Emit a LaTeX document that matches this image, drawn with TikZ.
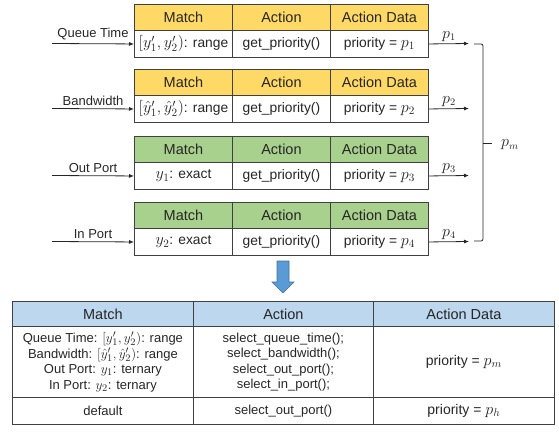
\documentclass[tikz,border=0pt]{standalone}
\usepackage{fontspec}
\usepackage{graphicx}
\setmainfont{Liberation Sans}
\usetikzlibrary{arrows.meta}
\definecolor{hdryellow}{HTML}{FFD966}
\definecolor{hdrgreen}{HTML}{A9D18E}
\definecolor{hdrblue}{HTML}{BDD7EE}
\definecolor{gridline}{HTML}{404040}
\definecolor{arrowblue}{HTML}{5B9BD5}
\definecolor{arrowedge}{HTML}{41719C}
\definecolor{inkgray}{HTML}{262626}

% math set a little larger so it sits well next to the sans text
\newcommand\mth[1]{\scalebox{1.12}{$#1$}}

\tikzset{
  cell/.style={draw=gridline, line width=0.9pt, inner sep=0pt, anchor=north west,
    minimum width=98pt, text=inkgray},
  hcell/.style={cell, minimum height=26pt, font=\fontsize{14.5}{17}\selectfont},
  bcell/.style={cell, minimum height=27pt, fill=white, font=\fontsize{13.8}{16}\selectfont},
  arr/.style={-{Latex[length=5pt,width=4pt]}, line width=0.8pt, draw=inkgray},
  inlabel/.style={font=\fontsize{13}{15}\selectfont, text=inkgray, inner sep=1pt},
  plabel/.style={font=\fontsize{13.5}{15}\selectfont, text=inkgray, inner sep=1pt},
  bigcell/.style={draw=gridline, line width=0.8pt, inner sep=0pt, anchor=north west, text=inkgray},
  bhead/.style={bigcell, fill=hdrblue, minimum height=25pt, font=\fontsize{14.5}{17}\selectfont},
  bbody/.style={bigcell, font=\fontsize{13}{15.5}\selectfont, align=center},
  bdata/.style={bbody, font=\fontsize{14}{16}\selectfont},
}

% one small match-action table: name prefix, top edge, header colour, match text, priority index
\newcommand\matchtable[5]{%
  \node[hcell, fill=#3] (#1h1) at (134,#2) {Match};
  \node[hcell, fill=#3] (#1h2) at (232,#2) {Action};
  \node[hcell, fill=#3] (#1h3) at (330,#2) {Action Data};
  \node[bcell] (#1b1) at (134,#2+26) {#4};
  \node[bcell] (#1b2) at (232,#2+26) {get\_priority()};
  \node[bcell] (#1b3) at (330,#2+26) {priority = \mth{p_{#5}}};
}

\begin{document}
\begin{tikzpicture}[x=1pt, y=-1pt]
\useasboundingbox (0,0) rectangle (559,431);

% the four per-field tables
\matchtable{qt}{4}{hdryellow}{\mth{[y_1',y_2')}: range}{1}
\matchtable{bw}{69}{hdryellow}{\mth{[\hat{y}_1',\hat{y}_2')}: range}{2}
\matchtable{op}{136}{hdrgreen}{\mth{y_1}: exact}{3}
\matchtable{ip}{202}{hdrgreen}{\mth{y_2}: exact}{4}

% inputs
\coordinate (qtin) at (52,43.5);
\coordinate (bwin) at (52,108.5);
\coordinate (opin) at (52,175.5);
\coordinate (ipin) at (52,241.5);
\draw[arr] (qtin) -- node[inlabel, above=2pt] {Queue Time} (qtb1.west);
\draw[arr] (bwin) -- node[inlabel, above=2pt] {Bandwidth} (bwb1.west);
\draw[arr] (opin) -- node[inlabel, above=2pt] {Out Port} (opb1.west);
\draw[arr] (ipin) -- node[inlabel, above=2pt] {In Port} (ipb1.west);

% outputs
\coordinate (qtout) at (469,43.5);
\coordinate (bwout) at (469,108.5);
\coordinate (opout) at (469,175.5);
\coordinate (ipout) at (469,241.5);
\draw[arr] (qtb3.east) -- node[plabel, above=1pt] {\mth{p_1}} (qtout);
\draw[arr] (bwb3.east) -- node[plabel, above=1pt] {\mth{p_2}} (bwout);
\draw[arr] (opb3.east) -- node[plabel, above=1pt] {\mth{p_3}} (opout);
\draw[arr] (ipb3.east) -- node[plabel, above=1pt] {\mth{p_4}} (ipout);

% bracket collecting the priorities
\coordinate (brtop) at (474,44);
\coordinate (brbot) at (474,241);
\coordinate (brmid) at (483,143);
\coordinate (brtip) at (492,143);
\draw[line width=0.8pt, draw=inkgray, rounded corners=2pt]
  (brtop) -- (483,44) -- (483,241) -- (brbot);
\draw[line width=0.8pt, draw=inkgray] (brmid) -- (brtip);
\node[plabel, anchor=west] (pm) at (500,145) {\mth{p_m}};

% block arrow down to the merged table
\filldraw[fill=arrowblue, draw=arrowedge, line width=0.6pt]
  (277,261) -- (289,261) -- (289,282) -- (294,282) -- (283,293)
  -- (272,282) -- (277,282) -- cycle;

% merged table
\node[bhead, minimum width=181pt] (mh1) at (12,301) {Match};
\node[bhead, minimum width=180pt] (mh2) at (193,301) {Action};
\node[bhead, minimum width=181pt] (mh3) at (373,301) {Action Data};
\node[bbody, minimum width=181pt, minimum height=71pt] (mr1) at (12,326)
  {Queue Time: \mth{[y_1',y_2')}: range\\
   Bandwidth: \mth{[\hat{y}_1',\hat{y}_2')}: range\\
   Out Port: \mth{y_1}: ternary\\
   In Port: \mth{y_2}: ternary};
\node[bbody, minimum width=180pt, minimum height=71pt] (mr2) at (193,326)
  {select\_queue\_time();\\
   select\_bandwidth();\\
   select\_out\_port();\\
   select\_in\_port();};
\node[bdata, minimum width=181pt, minimum height=71pt] (mr3) at (373,326)
  {priority = \mth{p_m}};
\node[bbody, minimum width=181pt, minimum height=27pt] (md1) at (12,397) {default};
\node[bbody, minimum width=180pt, minimum height=27pt] (md2) at (193,397) {select\_out\_port()};
\node[bdata, minimum width=181pt, minimum height=27pt] (md3) at (373,397) {priority = \mth{p_h}};
\end{tikzpicture}
\end{document}
